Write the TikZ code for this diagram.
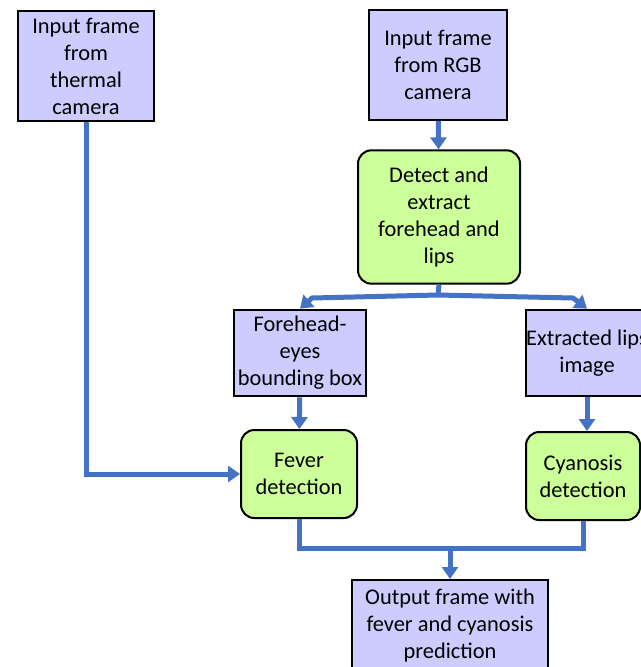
\documentclass[tikz,border=0pt]{standalone}
\usepackage{fontspec}
\setmainfont{Carlito}
\usetikzlibrary{arrows.meta}

\definecolor{boxblue}{HTML}{CCCCFF}
\definecolor{boxgreen}{HTML}{CCFF99}
\definecolor{flowblue}{HTML}{4472C4}

\begin{document}
\begin{tikzpicture}[x=0.75pt,y=-0.75pt,>={Triangle[width=12pt,length=9pt]},
            font=\fontsize{16.8}{20.25}\selectfont]
        \tikzstyle{frame}=[draw=black,line width=1.5pt,fill=boxblue,align=center,inner sep=0pt]
        \tikzstyle{proc}=[frame,fill=boxgreen,rounded corners=10pt]
        \tikzstyle{flowline}=[draw=flowblue,line width=3.75pt]
        \tikzstyle{arrowline}=[flowline,->]

        \useasboundingbox (0,0) rectangle (641,667);

        \node[frame,minimum width=102pt,minimum height=82.5pt] (thermal) at (86,66) {Input frame\\from\\thermal\\camera};
        \node[frame,minimum width=103.5pt,minimum height=82.5pt] (rgb) at (438,65) {Input frame\\from RGB\\camera};
        \node[proc,minimum width=121.5pt,minimum height=100pt] (detect) at (439,217) {Detect and\\extract\\forehead and\\lips};
        \node[frame,minimum width=99pt,minimum height=65pt] (forehead) at (300,353) {Forehead-\\eyes\\bounding box};
        \node[frame,minimum width=91.5pt,minimum height=65pt] (lip) at (587,353) {Extracted lips\\image};
        \node[proc,minimum width=87pt,minimum height=66pt] (fever) at (299,474) {Fever\\detection};
        \node[proc,minimum width=85.5pt,minimum height=66pt] (cyan) at (583,476) {Cyanosis\\detection};
        \node[frame,minimum width=147pt,minimum height=69pt] (output) at (450,626) {Output frame with\\fever and cyanosis\\prediction};

        \coordinate (split) at (438,295);
        \coordinate (merge) at (450,548);

        \draw[arrowline] (rgb) -- (detect);
        \draw[flowline] (detect.south) -- (split);
        \draw[arrowline] (split) -- ++(-126,3) -- (forehead.north);
        \draw[arrowline] (split) -- ++(135,3) -- (lip.north);
        \draw[arrowline] (forehead) -- (fever);
        \draw[arrowline] (lip.south) -- (lip.south |- cyan.north);
        \draw[arrowline] (thermal.south) |- (fever.west);
        \draw[flowline] (fever.south) |- (merge);
        \draw[flowline] (cyan.south) |- (merge);
        \draw[arrowline] (merge) -- (output.north);
    \end{tikzpicture}
\end{document}
